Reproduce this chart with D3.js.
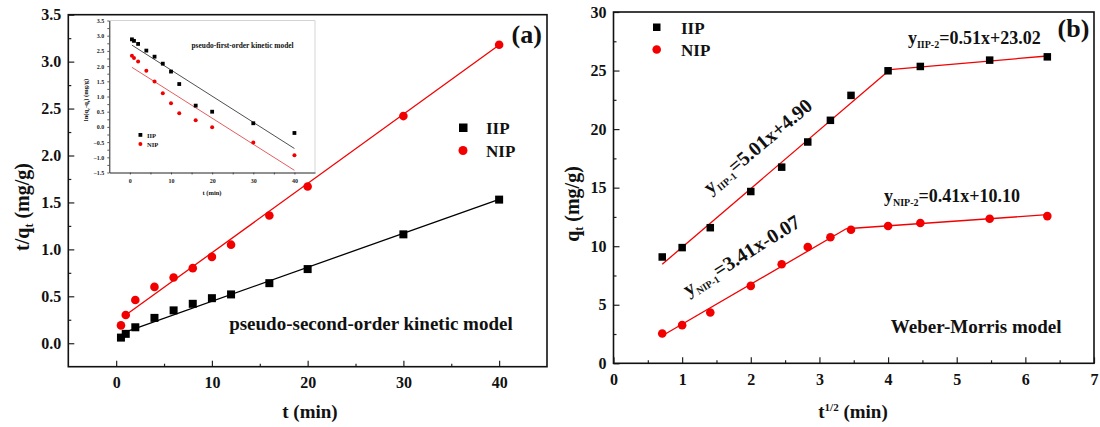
<!DOCTYPE html>
<html><head><meta charset="utf-8">
<script src="https://cdn.jsdelivr.net/npm/d3@7"></script>
<style>
body{margin:0;background:#fff}
svg text{font-family:"Liberation Serif","Times New Roman",serif;font-weight:bold;fill:#111}
</style></head><body>
<svg id="chart" width="1100" height="427"></svg>
<script>
// sampling times and their square roots
var tMin  = [0.5, 1, 2, 4, 6, 8, 10, 12, 16, 20, 30, 40];
var sqrtT = [0.71, 1, 1.41, 2, 2.45, 2.83, 3.16, 3.46, 4, 4.47, 5.48, 6.32];
// (a) pseudo-second-order: t/qt
var iipTq = [0.06, 0.10, 0.17, 0.27, 0.35, 0.42, 0.48, 0.52, 0.64, 0.79, 1.16, 1.53];
var nipTq = [0.19, 0.30, 0.46, 0.60, 0.70, 0.80, 0.92, 1.05, 1.36, 1.67, 2.42, 3.18];
// inset pseudo-first-order: ln(qe-qt)
var iipLn = [2.88, 2.83, 2.73, 2.51, 2.31, 2.08, 1.82, 1.41, 0.70, 0.50, 0.12, -0.20];
var nipLn = [2.34, 2.27, 2.15, 1.85, 1.49, 1.11, 0.78, 0.45, 0.22, -0.01, -0.51, -0.93];
// (b) Weber-Morris: qt
var iipQt = [9.08, 9.88, 11.58, 14.67, 16.75, 18.90, 20.75, 22.88, 24.98, 25.35, 25.89, 26.17];
var nipQt = [2.55, 3.26, 4.34, 6.61, 8.46, 9.93, 10.76, 11.41, 11.72, 11.98, 12.35, 12.57];
// fitted lines, [slope, intercept]
var psoIIP = [0.0362, 0.085], psoNIP = [0.0738, 0.226];
var pfoIIP = [-0.0861, 2.733], pfoNIP = [-0.0858, 2.003];
var wmIIP = [[5.01, 4.90], [0.51, 23.02]];
var wmNIP = [[3.41, -0.07], [0.41, 10.10]];
var seriesNames = ["IIP", "NIP"];

var RED = "#f20000", BLK = "#000";
var svg = d3.select("#chart");

function zip(xs, ys) { return xs.map(function (v, i) { return [v, ys[i]]; }); }

function fitLine(g, x, y, coef, x0, x1, color, w) {
  var pts = [x0, x1].map(function (v) { return [v, coef[0] * v + coef[1]]; });
  g.append("path").datum(pts)
    .attr("d", d3.line().x(function (d) { return x(d[0]); }).y(function (d) { return y(d[1]); }))
    .attr("fill", "none").attr("stroke", color).attr("stroke-width", w);
}

function squares(g, x, y, pts, s) {
  g.selectAll(null).data(pts).enter().append("rect")
    .attr("x", function (d) { return x(d[0]) - s / 2; })
    .attr("y", function (d) { return y(d[1]) - s / 2; })
    .attr("width", s).attr("height", s).attr("fill", BLK);
}

function circles(g, x, y, pts, r) {
  g.selectAll(null).data(pts).enter().append("circle")
    .attr("cx", function (d) { return x(d[0]); })
    .attr("cy", function (d) { return y(d[1]); })
    .attr("r", r).attr("fill", RED);
}

// inward-ticked boxed axes, like Origin
function boxAxes(g, x, y, xt, xm, xfmt, yt, ym, yfmt, fs) {
  var xr = x.range(), yr = y.range();
  g.append("g").attr("transform", "translate(0," + yr[0] + ")")
    .call(d3.axisBottom(x).tickValues(xm).tickFormat("").tickSizeInner(-3).tickSizeOuter(0));
  g.append("g").attr("transform", "translate(0," + yr[0] + ")")
    .call(d3.axisBottom(x).tickValues(xt).tickFormat(xfmt).tickSizeInner(-6).tickSizeOuter(0).tickPadding(10));
  g.append("g").attr("transform", "translate(" + xr[0] + ",0)")
    .call(d3.axisLeft(y).tickValues(ym).tickFormat("").tickSizeInner(-3).tickSizeOuter(0));
  g.append("g").attr("transform", "translate(" + xr[0] + ",0)")
    .call(d3.axisLeft(y).tickValues(yt).tickFormat(yfmt).tickSizeInner(-6).tickSizeOuter(0).tickPadding(7));
  g.selectAll(".domain").remove();
  g.selectAll(".tick line").attr("stroke", "#222").attr("stroke-width", 1.2);
  g.selectAll(".tick text").attr("font-size", fs).style("fill", "#111");
  g.append("rect").attr("x", xr[0]).attr("y", yr[1])
    .attr("width", xr[1] - xr[0]).attr("height", yr[0] - yr[1])
    .attr("fill", "none").attr("stroke", "#111").attr("stroke-width", 1.6);
}

function subText(g, tx, parts, fs) {
  var t = g.append("text").attr("transform", tx).attr("font-size", fs);
  parts.forEach(function (p) {
    var s = t.append("tspan").text(p[0]);
    if (p[1]) s.attr("dy", p[1]);
    if (p[2]) s.attr("font-size", p[2]);
  });
  return t;
}

// ---------- panel (a) ----------
var xa = d3.scaleLinear().domain([-5, 45]).range([68.3, 547]);
var ya = d3.scaleLinear().domain([-0.25, 3.5]).range([366.7, 14.7]);
var ga = svg.append("g");
boxAxes(ga, xa, ya, [0, 10, 20, 30, 40], [5, 15, 25, 35], d3.format("d"),
  d3.range(0, 3.51, 0.5), d3.range(0.25, 3.3, 0.5), d3.format(".1f"), 16);

fitLine(ga, xa, ya, psoIIP, 1, 40, BLK, 1.3);
fitLine(ga, xa, ya, psoNIP, 1, 40, RED, 1.3);
squares(ga, xa, ya, zip(tMin, iipTq), 8);
circles(ga, xa, ya, zip(tMin, nipTq), 4.3);

ga.append("text").attr("x", xa(41.3)).attr("y", ya(3.2)).attr("font-size", 26).text("(a)");
ga.append("text").attr("x", xa(11.8)).attr("y", ya(0.14)).attr("font-size", 19)
  .text("pseudo-second-order kinetic model");
// legend (a)
ga.append("rect").attr("x", 459).attr("y", 123.5).attr("width", 8.5).attr("height", 8.5).attr("fill", BLK);
ga.append("circle").attr("cx", 463).attr("cy", 150.5).attr("r", 4.5).attr("fill", RED);
ga.selectAll(null).data(seriesNames).enter().append("text")
  .attr("x", 486).attr("y", function (d, i) { return 133.5 + i * 23; })
  .attr("font-size", 17).text(function (d) { return d; });

subText(ga, "translate(310,418)", [["t (min)"]], 19).attr("text-anchor", "middle");
subText(ga, "translate(29,207) rotate(-90)", [["t/q"], ["t", 4, 12], [" (mg/g)", -4, 20]], 20)
  .attr("text-anchor", "middle");

// ---------- inset ----------
var xi = d3.scaleLinear().domain([-5, 45]).range([109.3, 315]);
var yi = d3.scaleLinear().domain([-1.5, 3.5]).range([172.5, 20.5]);
var gi = svg.append("g");
gi.append("path").attr("d", "M" + xi(-5) + "," + yi(3.5) + "H" + xi(45) + "V" + yi(-1.5))
  .attr("fill", "none").attr("stroke", "#d4d4d4").attr("stroke-width", 1);
gi.append("g").attr("transform", "translate(0," + yi(-1.5) + ")")
  .call(d3.axisBottom(xi).tickValues([0, 5, 10, 15, 20, 25, 30, 35, 40])
    .tickFormat(function (d) { return d % 10 ? "" : d; })
    .tickSizeInner(2).tickSizeOuter(0).tickPadding(4));
gi.append("g").attr("transform", "translate(" + xi(-5) + ",0)")
  .call(d3.axisLeft(yi).tickValues(d3.range(-1.5, 3.51, 0.25))
    .tickFormat(function (d) { return Math.abs(d * 2 - Math.round(d * 2)) < 1e-6 ? d3.format(".1f")(d) : ""; })
    .tickSizeInner(2).tickSizeOuter(0).tickPadding(3));
gi.selectAll(".domain").attr("stroke", "#222").attr("stroke-width", 1);
gi.selectAll(".tick line").attr("stroke", "#333").attr("stroke-width", 0.8);
gi.selectAll(".tick text").attr("font-size", 6).style("fill", "#222");

fitLine(gi, xi, yi, pfoIIP, 0.5, 40, "#222", 0.8);
fitLine(gi, xi, yi, pfoNIP, 0.5, 40, "#d33", 0.8);
squares(gi, xi, yi, zip(tMin, iipLn), 3.8);
circles(gi, xi, yi, zip(tMin, nipLn), 2);

gi.append("text").attr("x", 191.5).attr("y", 47.5).attr("font-size", 7.4)
  .text("pseudo-first-order kinetic model");
gi.append("rect").attr("x", 138.5).attr("y", 133).attr("width", 3.8).attr("height", 3.8).attr("fill", BLK);
gi.append("circle").attr("cx", 140.4).attr("cy", 144).attr("r", 2).attr("fill", RED);
gi.selectAll(null).data(seriesNames).enter().append("text")
  .attr("x", 147).attr("y", function (d, i) { return 137.5 + i * 9; })
  .attr("font-size", 6.5).text(function (d) { return d; });
subText(gi, "translate(212,195)", [["t (min)"]], 6.5).attr("text-anchor", "middle");
subText(gi, "translate(88,100) rotate(-90)",
  [["ln(q"], ["e", 1.5, 4.5], ["-q", -1.5, 6.5], ["t", 1.5, 4.5], [") (mg/g)", -1.5, 6.5]], 6.5)
  .attr("text-anchor", "middle");

// ---------- panel (b) ----------
var xb = d3.scaleLinear().domain([0, 7]).range([613.5, 1094]);
var yb = d3.scaleLinear().domain([0, 30]).range([363.3, 12]);
var gb = svg.append("g");
boxAxes(gb, xb, yb, d3.range(0, 8), d3.range(0.5, 7, 1), d3.format("d"),
  d3.range(0, 31, 5), d3.range(2.5, 30, 5), d3.format("d"), 16);

function twoStage(fits, x0, x1, color) {
  var xc = (fits[1][1] - fits[0][1]) / (fits[0][0] - fits[1][0]);
  fitLine(gb, xb, yb, fits[0], x0, xc, color, 1.3);
  fitLine(gb, xb, yb, fits[1], xc, x1, color, 1.3);
}
twoStage(wmIIP, sqrtT[0], sqrtT[sqrtT.length - 1], RED);
twoStage(wmNIP, sqrtT[0], sqrtT[sqrtT.length - 1], RED);
squares(gb, xb, yb, zip(sqrtT, iipQt), 7.5);
circles(gb, xb, yb, zip(sqrtT, nipQt), 4.3);

gb.append("rect").attr("x", 653).attr("y", 23.5).attr("width", 7.5).attr("height", 7.5).attr("fill", BLK);
gb.append("circle").attr("cx", 656.7).attr("cy", 49.5).attr("r", 4.3).attr("fill", RED);
gb.selectAll(null).data(seriesNames).enter().append("text")
  .attr("x", 681).attr("y", function (d, i) { return 33.5 + i * 22; })
  .attr("font-size", 17).text(function (d) { return d; });

gb.append("text").attr("x", xb(6.47)).attr("y", yb(27.9)).attr("font-size", 26).text("(b)");
gb.append("text").attr("x", xb(4.04)).attr("y", yb(2.55)).attr("font-size", 19).text("Weber-Morris model");

var eqs = [
  [4.29, 27.3, 0, "IIP-2", "=0.51x+23.02", 18],
  [3.94, 13.75, 0, "NIP-2", "=0.41x+10.10", 18],
  [1.41, 14.4, -40, "IIP-1", "=5.01x+4.90", 20],
  [1.09, 5.7, -32, "NIP-1", "=3.41x-0.07", 20]
];
eqs.forEach(function (e) {
  subText(gb, "translate(" + xb(e[0]) + "," + yb(e[1]) + ") rotate(" + e[2] + ")",
    [["y"], [e[3], 4, 10], [e[4], -4, e[5]]], e[5]);
});

subText(gb, "translate(853,418)", [["t"], ["1/2", -7, 11], [" (min)", 7, 19]], 19).attr("text-anchor", "middle");
subText(gb, "translate(579,204) rotate(-90)", [["q"], ["t", 4, 12], [" (mg/g)", -4, 20]], 20)
  .attr("text-anchor", "middle");
</script>
</body></html>
